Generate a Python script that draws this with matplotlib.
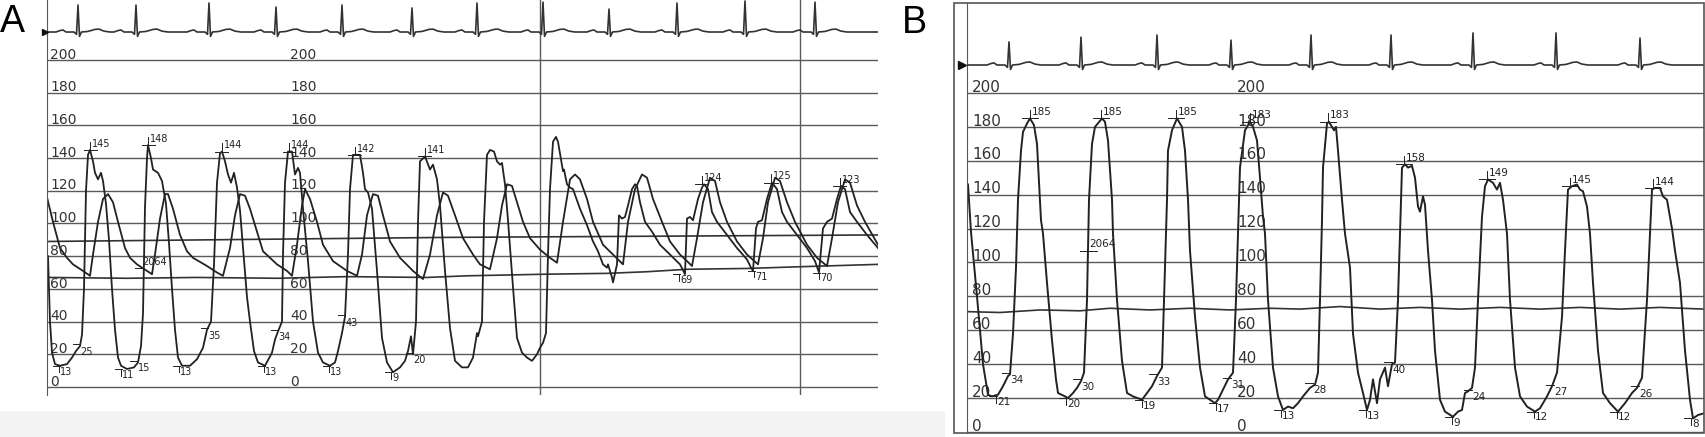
import numpy as np
import matplotlib.pyplot as plt
from matplotlib.patches import Rectangle

# ---------------- panel A (time in s, pressure in mmHg) ----------------
# catheter 1: LV pressure, pulled back into the aorta after the 8th beat
cath1_a_t = [0.01, 0.03, 0.05, 0.08, 0.13, 0.20, 0.25, 0.29, 0.33,
             0.35, 0.37, 0.39, 0.41, 0.43, 0.46, 0.48, 0.51, 0.54, 0.56, 0.59, 0.62, 0.65, 0.68, 0.71, 0.74, 0.80, 0.87, 0.91,
             0.94, 0.96, 0.98, 1.00, 1.01, 1.04, 1.06, 1.11, 1.15, 1.19, 1.22, 1.25, 1.28, 1.31, 1.35, 1.43, 1.50, 1.56, 1.60,
             1.64, 1.67, 1.70, 1.73, 1.75, 1.78, 1.81, 1.84, 1.87, 1.90, 1.93, 1.96, 2.00, 2.03, 2.07, 2.11, 2.18, 2.25, 2.28, 2.31,
             2.35, 2.36, 2.38, 2.41, 2.45, 2.48, 2.51, 2.53, 2.56, 2.61, 2.66, 2.71, 2.76, 2.83, 2.88, 2.91, 2.95, 2.98,
             3.01, 3.03, 3.06, 3.13, 3.16, 3.18, 3.21, 3.25, 3.30, 3.35, 3.40, 3.46, 3.53, 3.58, 3.61, 3.64, 3.66,
             3.69, 3.71, 3.73, 3.78, 3.83, 3.86, 3.90, 3.93, 3.98, 4.03, 4.08, 4.15, 4.21, 4.26, 4.30, 4.31,
             4.35, 4.37, 4.40, 4.43, 4.47, 4.50, 4.53, 4.55, 4.58, 4.61, 4.66, 4.70, 4.75, 4.80, 4.85, 4.90, 4.93, 4.96, 4.99,
             5.01, 5.03, 5.06, 5.09, 5.11, 5.14, 5.16, 5.17, 5.20, 5.23, 5.26, 5.33, 5.40, 5.46, 5.51, 5.56, 5.60, 5.61, 5.65, 5.66,
             5.70, 5.72, 5.75, 5.78, 5.81, 5.85, 5.88, 5.90, 5.93, 5.98, 6.05, 6.13, 6.23, 6.33, 6.38,
             6.40, 6.43, 6.46, 6.51, 6.55, 6.57, 6.61, 6.65, 6.70, 6.80, 6.90, 7.00, 7.04, 7.06,
             7.09, 7.11, 7.15, 7.20, 7.25, 7.30, 7.35, 7.40, 7.50, 7.60, 7.68, 7.72,
             7.76, 7.80, 7.85, 7.90, 7.94, 7.98, 8.03, 8.10, 8.20, 8.31]
cath1_a_p = [80, 40, 21, 14, 13, 14, 18, 22, 25,
             32, 60, 120, 142, 145, 138, 131, 127, 131, 126, 112, 90, 60, 35, 18, 13, 11, 12, 15,
             25, 45, 110, 140, 148, 140, 133, 131, 126, 112, 88, 60, 35, 18, 13, 13, 17, 24, 35,
             40, 75, 125, 143, 144, 138, 130, 125, 131, 122, 108, 85, 55, 40, 22, 15, 13, 21, 29, 34,
             40, 81, 125, 144, 144, 130, 134, 131, 109, 77, 40, 21, 15, 13, 15, 22, 33, 43,
             81, 121, 142, 142, 131, 121, 119, 109, 71, 30, 15, 9, 12, 16, 22, 31, 20,
             40, 101, 138, 141, 133, 136, 127, 111, 71, 36, 16, 12, 12, 18, 33, 31,
             40, 101, 142, 145, 144, 138, 136, 137, 124, 102, 61, 30, 21, 18, 16, 20, 24, 27, 33,
             81, 121, 150, 153, 150, 139, 132, 133, 124, 122, 121, 109, 99, 89, 83, 75, 73, 75, 67, 64,
             75, 105, 103, 104, 111, 121, 124, 123, 113, 101, 95, 87, 81, 75, 69,
             103, 104, 102, 115, 122, 124, 121, 107, 101, 93, 85, 78, 73, 71,
             97, 101, 102, 115, 125, 121, 107, 101, 93, 85, 77, 70,
             97, 101, 103, 115, 123, 121, 107, 101, 93, 85]

# catheter 2: aortic pressure
cath2_a_t = [0.00, 0.06, 0.13, 0.20, 0.26, 0.36, 0.43,
             0.46, 0.51, 0.56, 0.61, 0.66, 0.71, 0.78, 0.83, 0.90, 1.00, 1.05,
             1.08, 1.13, 1.18, 1.21, 1.26, 1.33, 1.40, 1.46, 1.60, 1.70, 1.76,
             1.83, 1.88, 1.93, 1.98, 2.03, 2.10, 2.16, 2.30, 2.40, 2.45,
             2.50, 2.55, 2.58, 2.63, 2.70, 2.76, 2.86, 3.00, 3.10,
             3.15, 3.20, 3.26, 3.31, 3.36, 3.43, 3.53, 3.66, 3.76,
             3.83, 3.90, 3.96, 4.01, 4.08, 4.16, 4.26, 4.33, 4.43,
             4.50, 4.55, 4.60, 4.65, 4.70, 4.76, 4.83, 4.93, 5.03, 5.10,
             5.16, 5.23, 5.28, 5.33, 5.40, 5.46, 5.56, 5.66, 5.76,
             5.81, 5.88, 5.95, 6.00, 6.06, 6.15, 6.23, 6.33, 6.40, 6.45,
             6.50, 6.56, 6.63, 6.68, 6.73, 6.80, 6.90, 7.00, 7.11,
             7.16, 7.21, 7.28, 7.33, 7.40, 7.48, 7.60, 7.70, 7.80,
             7.85, 7.91, 7.98, 8.03, 8.10, 8.18, 8.31]
cath2_a_p = [116, 101, 85, 79, 75, 71, 68,
             81, 101, 115, 118, 113, 101, 85, 79, 75, 71, 69,
             81, 103, 118, 118, 109, 93, 83, 79, 74, 70, 68,
             85, 105, 118, 117, 109, 95, 83, 75, 71, 68,
             87, 111, 121, 115, 101, 87, 77, 71, 68,
             81, 105, 118, 117, 105, 89, 79, 71, 66,
             81, 105, 119, 117, 105, 91, 81, 75, 72,
             91, 111, 124, 123, 113, 101, 91, 84, 79, 76,
             101, 127, 130, 127, 115, 101, 87, 81, 75,
             101, 121, 130, 128, 115, 101, 89, 81, 77, 74,
             91, 113, 128, 126, 113, 101, 89, 81, 75,
             91, 113, 128, 126, 113, 101, 87, 79, 74,
             91, 113, 127, 125, 111, 101, 87]

# two slowly drifting mean-pressure lines
mean1_a_t = [0.0, 4.0, 8.31]
mean1_a_p = [89, 91.5, 93]
mean2_a_t = [0.0, 0.8, 1.5, 2.3, 3.0, 3.8, 4.2, 5.0, 5.6, 6.0, 6.4, 7.0, 7.5, 8.31]
mean2_a_p = [67, 66.5, 67, 66.5, 67.5, 67, 68, 69, 69.5, 70.5, 72, 72.5, 73.5, 75]

ecg_a_r = [0.31, 0.89, 1.62, 2.29, 2.95, 3.65, 4.30, 4.96, 5.62, 6.30, 6.98, 7.68]
ecg_a_amp = [0.93, 0.93, 1.0, 0.86, 0.93, 0.83, 1.0, 1.03, 0.79, 1.0, 1.07, 1.03]

pullback_a = [4.93, 7.53]

a_peak_t = [0.43, 1.01, 1.75, 2.42, 3.08, 3.78, 6.55, 7.24, 7.93]
a_peak_v = [145, 148, 144, 144, 142, 141, 124, 125, 123]
a_min_t = [0.12, 0.74, 1.32, 2.17, 2.82, 3.44, 6.32, 7.07, 7.72]
a_min_v = [13, 11, 13, 13, 13, 9, 69, 71, 70]
a_edp_t = [0.33, 0.90, 1.61, 2.31, 2.98, 3.66]
a_edp_v = [25, 15, 35, 34, 43, 20]
a_dpdt = ('2064', 0.95, 73)

# ---------------- panel B ----------------
lv_b_t = [0.01, 0.04, 0.10, 0.16, 0.21, 0.25, 0.31, 0.36, 0.41,
          0.43, 0.46, 0.49, 0.51, 0.54, 0.56, 0.60, 0.63, 0.67, 0.70, 0.72, 0.74, 0.76, 0.80, 0.85, 0.89, 0.91, 0.98, 1.01, 1.06, 1.10,
          1.14, 1.17, 1.20, 1.22, 1.25, 1.28, 1.35, 1.38, 1.41, 1.45, 1.46, 1.50, 1.55, 1.60, 1.66, 1.75, 1.80, 1.85,
          1.90, 1.95, 1.97, 2.00, 2.01, 2.05, 2.10, 2.15, 2.18, 2.21, 2.23, 2.28, 2.33, 2.38, 2.43, 2.48, 2.51, 2.56,
          2.61, 2.66, 2.69, 2.71, 2.73, 2.78, 2.83, 2.86, 2.90, 2.93, 2.96, 2.98, 3.01, 3.06, 3.11, 3.16, 3.21, 3.26, 3.31, 3.36, 3.43,
          3.48, 3.51, 3.53, 3.55, 3.56, 3.60, 3.62, 3.65, 3.67, 3.69, 3.71, 3.75, 3.78, 3.83, 3.86, 3.91, 3.96, 4.00,
          4.03, 4.06, 4.10, 4.13, 4.18, 4.21, 4.25, 4.28, 4.31, 4.33, 4.35, 4.38, 4.41, 4.45, 4.48, 4.51, 4.53, 4.56, 4.58,
          4.61, 4.65, 4.68, 4.73, 4.78, 4.86, 4.91, 4.95, 4.98, 5.01, 5.05, 5.08, 5.11, 5.15, 5.18, 5.21, 5.26, 5.30, 5.33,
          5.36, 5.40, 5.43, 5.48, 5.53, 5.60, 5.68, 5.73, 5.80, 5.85, 5.90, 5.95, 5.98, 6.01, 6.05, 6.10, 6.13, 6.16,
          6.20, 6.23, 6.26, 6.31, 6.36, 6.43, 6.51, 6.58, 6.65, 6.70, 6.75, 6.80, 6.83, 6.85, 6.88, 6.93, 6.96, 7.00,
          7.03, 7.05, 7.08, 7.13, 7.18, 7.23, 7.26, 7.31, 7.37]
lv_b_p = [146, 118, 80, 40, 22, 21, 22, 27, 33,
          34, 58, 97, 137, 166, 177, 182, 185, 181, 170, 147, 125, 117, 88, 54, 31, 23, 21, 20, 23, 26,
          30, 35, 78, 137, 170, 180, 185, 183, 172, 137, 117, 78, 42, 23, 21, 19, 23, 27,
          33, 38, 78, 137, 166, 178, 185, 180, 166, 137, 107, 68, 38, 21, 19, 17, 19, 25,
          31, 35, 78, 117, 156, 178, 183, 180, 172, 150, 127, 117, 78, 38, 21, 13, 15, 14, 17, 21, 26,
          28, 35, 78, 125, 156, 182, 183, 180, 178, 180, 166, 137, 117, 97, 58, 35, 23, 13,
          19, 31, 17, 31, 38, 27, 40, 41, 78, 117, 156, 158, 156, 157, 150, 133, 130, 139, 134,
          107, 78, 48, 19, 12, 9, 12, 13, 23, 24, 26, 38, 78, 127, 145, 149, 147, 143, 147,
          137, 117, 78, 38, 21, 15, 12, 14, 21, 27, 35, 68, 107, 143, 145, 146, 143, 142,
          133, 117, 88, 48, 23, 17, 12, 17, 23, 26, 32, 78, 117, 143, 144, 144, 139, 137,
          127, 120, 107, 88, 48, 19, 8, 10, 11]

mean_b_t = [0.00, 0.33, 0.73, 1.13, 1.43, 1.83, 2.23, 2.63, 3.03, 3.33, 3.73, 4.13,
            4.53, 4.93, 5.33, 5.73, 6.13, 6.53, 6.93, 7.37]
mean_b_p = [71, 70.5, 72, 71.5, 73, 72, 73, 72, 73, 72.5, 74, 72.5,
            73.5, 72.5, 73.5, 72.5, 73.5, 72.5, 73.5, 72.5]

ecg_b_r = [0.42, 1.14, 1.90, 2.64, 3.44, 4.24, 5.06, 5.89, 6.73]
ecg_b_amp = [0.77, 0.93, 1.0, 0.83, 1.0, 1.0, 1.07, 1.07, 0.9]

b_peak_t = [0.63, 1.34, 2.09, 2.83, 3.61, 4.37, 5.20, 6.03, 6.86]
b_peak_v = [185, 185, 185, 183, 183, 158, 149, 145, 144]
b_min_t = [0.29, 0.99, 1.75, 2.49, 3.14, 3.99, 4.85, 5.67, 6.50, 7.24]
b_min_v = [21, 20, 19, 17, 13, 13, 9, 12, 12, 8]
b_edp_t = [0.43, 1.14, 1.90, 2.64, 3.46, 4.25, 5.05, 5.87, 6.72]
b_edp_v = [34, 30, 33, 31, 28, 40, 24, 27, 26]
b_dpdt = ('2064', 1.22, 107)

scale_ticks = list(range(0, 201, 20))

# one ECG complex: offsets from the R wave (s) and level (mV); the R level is set per beat
ecg_shape_t = [-0.22, -0.18, -0.15, -0.12, -0.04, -0.015, 0.0, 0.015, 0.035, 0.10, 0.17, 0.21, 0.26, 0.32]
ecg_shape_v = [0, 0.05, 0.07, 0, 0, -0.08, None, -0.15, 0, 0.02, 0.09, 0.10, 0.03, 0]

INK = '#222222'
GRID = '#5a5a5a'
W, H = 1705, 437

fig = plt.figure(figsize=(W / 100, H / 100), dpi=100)
fig.patch.set_facecolor('white')


def px_axes(x0, y0, x1, y1):
    # axes rectangle from pixel box (y counted from the top)
    ax = fig.add_axes([x0 / W, 1 - y1 / H, (x1 - x0) / W, (y1 - y0) / H])
    ax.patch.set_alpha(0)
    return ax


def ecg_trace(r_times, amps, t_end):
    t, v = [0.0], [0.0]
    for r, a in zip(r_times, amps):
        for dt, lv in zip(ecg_shape_t, ecg_shape_v):
            t.append(r + dt)
            v.append(a if lv is None else lv)
    t.append(t_end)
    v.append(0.0)
    return t, v


def peak_mark(ax, t, v, fs, hw):
    ax.plot([t - hw, t + hw], [v, v], color=INK, lw=0.7)
    ax.plot([t, t], [v, v + 5], color=INK, lw=0.7)
    ax.text(t + 0.015, v + 2, str(v), fontsize=fs, color=INK, ha='left', va='baseline')


def min_mark(ax, t, v, fs, hw):
    ax.plot([t - hw, t + 0.01], [v, v], color=INK, lw=0.7)
    ax.plot([t, t], [v - 4, v], color=INK, lw=0.7)
    ax.text(t + 0.01, v - 0.5, str(v), fontsize=fs, color=INK, ha='left', va='top')


def edp_mark(ax, t, v, fs, hw):
    ax.plot([t - hw, t], [v + 1, v + 1], color=INK, lw=0.7)
    ax.text(t + 0.005, v - 0.5, str(v), fontsize=fs, color=INK, ha='left', va='top')


def pressure_frame(ax, t_end, ylim, label_cols, fs):
    ax.set_xlim(0, t_end)
    ax.set_ylim(*ylim)
    ax.set_yticks(scale_ticks)
    ax.set_xticks([])
    ax.yaxis.grid(True, color=GRID, lw=1.0)
    ax.tick_params(length=0, labelleft=False)
    for s in ['top', 'right', 'bottom']:
        ax.spines[s].set_visible(False)
    ax.spines['left'].set_color(GRID)
    for v in scale_ticks:
        for tx in label_cols:
            ax.text(tx, v + 0.8, str(v), fontsize=fs, color='#333333',
                    ha='left', va='baseline', zorder=1)


# ---------------- draw A ----------------
axA = px_axes(47, 0, 878, 395)
pressure_frame(axA, 8.31, (-4.9, 236.7), [0.03, 2.43], 10)
for x in pullback_a:
    axA.axvline(x, color=GRID, lw=1.0)
axA.plot(mean1_a_t, mean1_a_p, color='#333333', lw=1.2)
axA.plot(mean2_a_t, mean2_a_p, color='#333333', lw=1.2)
axA.plot(cath2_a_t, cath2_a_p, color=INK, lw=1.3)
axA.plot(cath1_a_t, cath1_a_p, color=INK, lw=1.3)
for t, v in zip(a_peak_t, a_peak_v):
    peak_mark(axA, t, v, 7, 0.065)
for t, v in zip(a_min_t, a_min_v):
    min_mark(axA, t, v, 7, 0.06)
for t, v in zip(a_edp_t, a_edp_v):
    edp_mark(axA, t, v, 7, 0.07)
axA.plot([a_dpdt[1] - 0.07, a_dpdt[1] + 0.01], [a_dpdt[2], a_dpdt[2]], color=INK, lw=0.7)
axA.text(a_dpdt[1], a_dpdt[2] + 1.5, a_dpdt[0], fontsize=7, color=INK, ha='left', va='baseline')

ecgA = px_axes(47, 0, 878, 50)
ecgA.set_xlim(0, 8.31)
ecgA.set_ylim(-0.62, 1.103)
ecgA.axis('off')
ta, va_ = ecg_trace(ecg_a_r, ecg_a_amp, 8.31)
ecgA.plot(ta, va_, color='#333333', lw=1.2)
ecgA.plot([-0.02], [0], marker='>', color='#111111', ms=5, clip_on=False)

# ---------------- draw B ----------------
axB = px_axes(967, 3, 1704, 433)
pressure_frame(axB, 7.37, (-0.6, 253.1), [0.05, 2.70], 11)
axB.plot(mean_b_t, mean_b_p, color='#333333', lw=1.2)
axB.plot(lv_b_t, lv_b_p, color=INK, lw=1.4)
for t, v in zip(b_peak_t, b_peak_v):
    peak_mark(axB, t, v, 7.5, 0.08)
for t, v in zip(b_min_t, b_min_v):
    min_mark(axB, t, v, 7.5, 0.07)
for t, v in zip(b_edp_t, b_edp_v):
    edp_mark(axB, t, v, 7.5, 0.08)
axB.plot([b_dpdt[1] - 0.09, b_dpdt[1] + 0.08], [b_dpdt[2], b_dpdt[2]], color=INK, lw=0.7)
axB.text(b_dpdt[1], b_dpdt[2] + 2, b_dpdt[0], fontsize=7.5, color=INK, ha='left', va='baseline')

ecgB = px_axes(967, 3, 1704, 90)
ecgB.set_xlim(0, 7.37)
ecgB.set_ylim(-0.833, 2.067)
ecgB.axis('off')
tb, vb = ecg_trace(ecg_b_r, ecg_b_amp, 7.37)
ecgB.plot(tb, vb, color='#333333', lw=1.2)
ecgB.plot([-0.05], [0], marker='>', color='#111111', ms=6, clip_on=False)

# frame of B and the grey strip under A
fig.add_artist(Rectangle((954 / W, 1 - 433 / H), 750 / W, 430 / H, fill=False,
                         ec='#555555', lw=1.2, transform=fig.transFigure))
fig.add_artist(Rectangle((0, 0), 945 / W, 26 / H, fc='#f3f3f3', ec='none',
                         transform=fig.transFigure, zorder=-1))

fig.text(0 / W, 1 - 32 / H, 'A', fontsize=27, family='Liberation Sans', ha='left', va='baseline')
fig.text(902 / W, 1 - 33 / H, 'B', fontsize=27, family='Liberation Sans', ha='left', va='baseline')

fig.savefig('out.png', dpi=100)
